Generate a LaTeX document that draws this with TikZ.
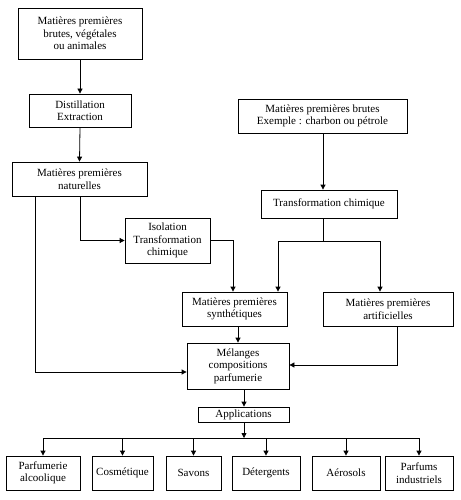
\documentclass[tikz,border=0pt]{standalone}
\usepackage{fontspec}
\setmainfont{Liberation Serif}
\usetikzlibrary{arrows.meta}
\begin{document}
\begin{tikzpicture}[x=1pt,y=-1pt,
 box/.style={draw, line width=0.8pt, align=center, inner sep=0pt, font=\fontsize{11}{12.5}\selectfont},
 arr/.style={-{Triangle[length=5pt,width=5pt]}, line width=0.8pt},
 ln/.style={line width=0.8pt}]
\useasboundingbox[fill=white] (0,0) rectangle (460,500);
\node[box, minimum width=124pt, minimum height=51pt] (b1) at (80,33.5) {Matières premières\\brutes, végétales\\ou animales};
\node[box, minimum width=102pt, minimum height=33pt] (b2) at (80,110.5) {Distillation\\Extraction};
\node[box, minimum width=135pt, minimum height=34pt] (b3) at (79.5,179) {Matières premières\\naturelles};
\node[box, minimum width=169pt, minimum height=34pt] (b4) at (322.5,116) {Matières premières brutes\\Exemple : charbon ou pétrole};
\node[box, minimum width=136pt, minimum height=28pt] (b5) at (329,204) {Transformation chimique};
\node[box, minimum width=85pt, minimum height=45pt] (iso) at (167.5,240.5) {Isolation\\Transformation\\chimique};
\node[box, minimum width=105pt, minimum height=34pt] (syn) at (234.5,309) {Matières premières\\synthétiques};
\node[box, minimum width=130pt, minimum height=34pt] (art) at (388,309) {Matières premières\\artificielles};
\node[box, minimum width=102pt, minimum height=46pt] (mel) at (238,366) {Mélanges\\compositions\\parfumerie};
\node[box, minimum width=91pt, minimum height=15pt] (app) at (243.5,414.5) {Applications};
\node[box, minimum width=74pt, minimum height=34pt] (p1) at (43,473) {Parfumerie\\alcoolique};
\node[box, minimum width=61pt, minimum height=34pt] (p2) at (122.5,473) {Cosmétique};
\node[box, minimum width=55pt, minimum height=34pt] (p3) at (193.5,473) {Savons};
\node[box, minimum width=68pt, minimum height=34pt] (p4) at (266,473) {Détergents};
\node[box, minimum width=68pt, minimum height=34pt] (p5) at (346,473) {Aérosols};
\node[box, minimum width=68pt, minimum height=34pt] (p6) at (419,473) {Parfums\\industriels};
% connectors
\draw[arr] (b1.south) -- (b2.north);
\draw[arr] (b2.south) -- (b3.north);
\draw[arr] (b3.south -| 35,0) |- (mel.west |- 0,372);
\draw[arr] (b3.south -| 80,0) |- (iso.west);
\draw[arr] (iso.east) -| (syn.north -| 233,0);
\draw[arr] (b4.south -| 323,0) -- (b5.north -| 323,0);
\coordinate (split) at (323,241);
\draw[ln] (b5.south -| 323,0) -- (split);
\draw[arr] (split) -| (syn.north -| 278,0);
\draw[arr] (split) -| (art.north -| 380,0);
\draw[arr] (syn.south -| 238,0) -- (mel.north -| 238,0);
\draw[arr] (art.south -| 397,0) |- (mel.east |- 0,365);
\draw[arr] (mel.south -| 244,0) -- (app.north -| 244,0);
\coordinate (bus) at (244,438);
\draw[arr] (app.south -| 244,0) -- (bus);
\draw[ln] (p1.north |- bus) -- (p6.north |- bus);
\foreach \p in {p1,p2,p3,p4,p5,p6}{\draw[arr] (\p.north |- bus) -- (\p.north);}
\end{tikzpicture}
\end{document}
